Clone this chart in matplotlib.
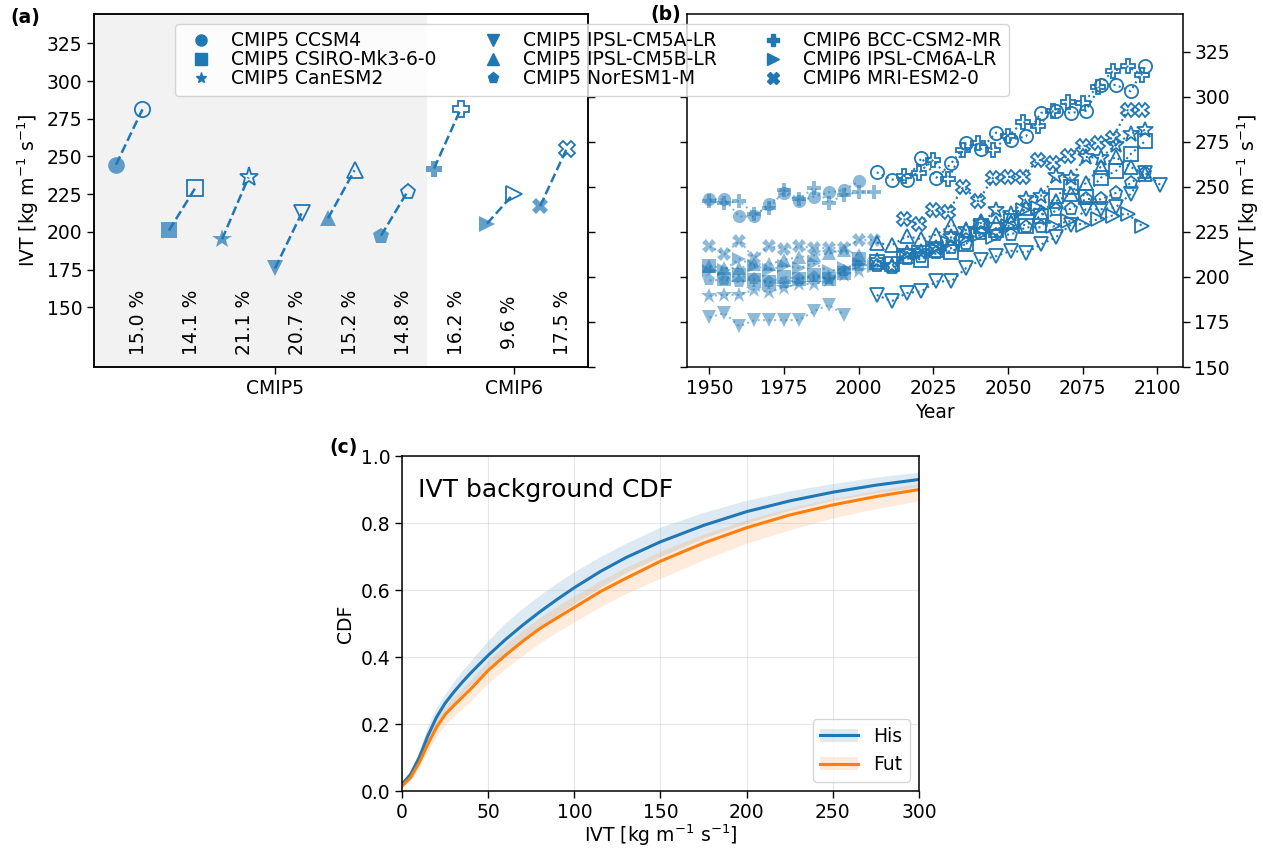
import numpy as np
import matplotlib
matplotlib.use("Agg")
import matplotlib.pyplot as plt
from matplotlib.patches import Patch
from matplotlib.lines import Line2D

plt.rcParams["font.size"] = 13.5
plt.rcParams["axes.linewidth"] = 1.1
plt.rcParams["xtick.major.size"] = 4.8
plt.rcParams["ytick.major.size"] = 4.8
plt.rcParams["xtick.major.width"] = 1.0
plt.rcParams["ytick.major.width"] = 1.0

# model names, markers and group
models = ["CMIP5 CCSM4", "CMIP5 CSIRO-Mk3-6-0", "CMIP5 CanESM2",
          "CMIP5 IPSL-CM5A-LR", "CMIP5 IPSL-CM5B-LR", "CMIP5 NorESM1-M",
          "CMIP6 BCC-CSM2-MR", "CMIP6 IPSL-CM6A-LR", "CMIP6 MRI-ESM2-0"]
markers = ["o", "s", "*", "v", "^", "p", "P", ">", "X"]

# period mean IVT (kg m-1 s-1)
his_mean = [244.5, 201.0, 195.0, 175.8, 209.0, 197.5, 242.0, 205.5, 217.0]
fut_mean = [281.2, 229.3, 236.1, 212.2, 240.8, 226.7, 281.2, 225.2, 255.0]

# 5-year mean IVT time series, historical
his_ccsm4 = [243, 243, 233.5, 233.5, 240.5, 246.5, 242, 244.5, 247, 248, 253]
his_csiro = [206, 199, 201, 198, 197, 200, 199, 201, 199, 202, 210]
his_canesm2 = [189.5, 190, 190, 193, 191.5, 194, 196, 196, 198, 201, 203]
his_cm5a = [177.5, 180, 172.5, 176, 176, 176, 176, 181, 184.5, 179]
his_cm5b = [206, 205, 205, 207, 207, 209.5, 211, 212, 213, 215, 212]
his_noresm = [198, 198.5, 197, 199, 197, 196.5, 199, 200, 199, 203, 206]
his_bcc = [242, 241, 242, 235, 238, 248, 243, 249.5, 241, 245.5, 247, 247]
his_cm6a = [203, 204, 210, 206, 204, 206, 205, 207.5, 203, 205, 207, 206]
his_mri = [217, 212.5, 220, 210.5, 217, 215.5, 217, 216, 216, 216, 220.5, 220.5]

# 5-year mean IVT time series, future
fut_ccsm4 = [258, 254, 253.5, 266, 255, 263, 274, 271, 280, 276, 278, 291,
             292, 291, 292, 306.5, 306.5, 303, 316.7]
fut_csiro = [208.5, 207, 211.5, 209.5, 215, 214, 218.5, 228, 226, 231, 228.5,
             234, 245, 250, 244.5, 255, 258.5, 268, 275.5]
fut_canesm2 = [209, 206, 213, 214, 216, 222, 226, 230, 237, 235, 243, 245,
               256, 255, 266.5, 266, 273, 279.5, 281.5]
fut_cm5a = [190, 186.5, 191, 192, 197.5, 197.5, 205, 209.5, 211.5, 214.5,
            213.5, 218, 222, 229, 237.5, 237.5, 238.5, 246, 257.5, 251]
fut_cm5b = [219, 217.5, 222.5, 221, 223.5, 229, 226, 231, 230, 230.5, 238,
            236, 242, 246, 252, 261, 266.5, 261, 257]
fut_noresm = [206, 205, 210, 211, 213, 216, 218.5, 224, 223.5, 223.5, 227.5,
              227.5, 237.3, 237.7, 243.2, 243, 246.5, 252, 257.6]
fut_bcc = [255.8, 257.6, 265, 254.5, 270.5, 274, 270.5, 278, 286, 283.5,
           292, 297, 296.5, 305.5, 314, 316.7, 312]
fut_cm6a = [212, 214, 216, 219, 221, 223, 222, 228, 237, 238, 228, 231, 229,
            232, 234, 235, 228]
fut_mri = [232, 229.5, 237, 236, 250, 242, 255, 255.5, 255.5, 265, 263, 267,
           272.5, 274.5, 277, 292.5, 292.5]

his_series = [his_ccsm4, his_csiro, his_canesm2, his_cm5a, his_cm5b,
              his_noresm, his_bcc, his_cm6a, his_mri]
fut_series = [fut_ccsm4, fut_csiro, fut_canesm2, fut_cm5a, fut_cm5b,
              fut_noresm, fut_bcc, fut_cm6a, fut_mri]

his_years = np.arange(1950, 2010, 5)
fut_years_cmip5 = np.arange(2006, 2105, 5)
fut_years_cmip6 = np.arange(2015, 2100, 5)

# background IVT CDF, ensemble mean and spread
cdf_x = [0, 5, 10, 15, 20, 25, 30, 35, 40, 50, 60, 70, 80, 90, 100, 115, 130,
         150, 175, 200, 225, 250, 275, 300]
his_cdf = [0.02, 0.05, 0.1, 0.165, 0.22, 0.262, 0.295, 0.325, 0.353, 0.405,
           0.452, 0.495, 0.535, 0.572, 0.607, 0.655, 0.697, 0.744, 0.793,
           0.834, 0.866, 0.892, 0.913, 0.93]
his_lo = [0.018, 0.045, 0.088, 0.145, 0.195, 0.232, 0.262, 0.29, 0.316, 0.365,
          0.41, 0.452, 0.49, 0.526, 0.56, 0.608, 0.652, 0.70, 0.755, 0.80,
          0.838, 0.868, 0.89, 0.908]
his_hi = [0.025, 0.06, 0.12, 0.195, 0.25, 0.29, 0.327, 0.36, 0.39, 0.45,
          0.502, 0.546, 0.585, 0.622, 0.655, 0.70, 0.74, 0.788, 0.832, 0.868,
          0.896, 0.918, 0.937, 0.952]
fut_cdf = [0.015, 0.04, 0.085, 0.14, 0.19, 0.228, 0.255, 0.28, 0.305, 0.36,
           0.405, 0.447, 0.485, 0.517, 0.548, 0.595, 0.635, 0.686, 0.74,
           0.786, 0.824, 0.854, 0.879, 0.90]
fut_lo = [0.012, 0.032, 0.07, 0.118, 0.163, 0.198, 0.223, 0.247, 0.27, 0.322,
          0.365, 0.405, 0.442, 0.475, 0.505, 0.55, 0.59, 0.635, 0.69, 0.74,
          0.78, 0.815, 0.843, 0.866]
fut_hi = [0.02, 0.05, 0.1, 0.163, 0.215, 0.252, 0.28, 0.307, 0.333, 0.39,
          0.437, 0.48, 0.518, 0.552, 0.583, 0.628, 0.668, 0.716, 0.767, 0.81,
          0.845, 0.873, 0.897, 0.918]

c0 = "#1f77b4"
c1 = "#ff7f0e"
ivt_label = "IVT [kg m$^{-1}$ s$^{-1}$]"
yticks = list(range(150, 326, 25))
# stars read small next to the other symbols
msize_a = [12 if m != "*" else 15 for m in markers]
msize_b = [9.5 if m != "*" else 12 for m in markers]

fig = plt.figure(figsize=(12.63, 8.5), dpi=100)
ax_a = fig.add_axes([0.0744, 0.5682, 0.3912, 0.4153])
ax_b = fig.add_axes([0.5439, 0.5682, 0.3927, 0.4153])
ax_c = fig.add_axes([0.3183, 0.0694, 0.4093, 0.3941])

# (a) period means
ax_a.axvspan(-1, 5.85, color="0.95", zorder=0)
for i in range(len(models)):
    ax_a.plot([i, i + 0.5], [his_mean[i], fut_mean[i]], "--", color=c0, lw=1.8)
    ax_a.plot(i, his_mean[i], markers[i], color=c0, alpha=0.7, ms=msize_a[i],
              mew=0)
    ax_a.plot(i + 0.5, fut_mean[i], markers[i], mfc="none", mec=c0,
              ms=msize_a[i] - 1, mew=1.3)
    pct = (fut_mean[i] / his_mean[i] - 1) * 100
    ax_a.text(i + 0.42, 140, f"{pct:.1f} %", rotation=90, ha="center",
              va="center")
ax_a.set_xlim(-0.415, 8.905)
ax_a.set_ylim(110.4, 344.4)
ax_a.set_yticks(yticks)
ax_a.set_xticks([3.0, 7.5])
ax_a.set_xticklabels(["CMIP5", "CMIP6"])
ax_a.set_ylabel(ivt_label)
ax_a2 = ax_a.twinx()
ax_a2.set_ylim(150, 345.8)
ax_a2.set_yticks(yticks)
ax_a2.set_yticklabels([])

# (b) time series
for i in range(len(models)):
    hy = his_years[:len(his_series[i])]
    fy = fut_years_cmip5 if i < 6 else fut_years_cmip6
    fy = fy[:len(fut_series[i])]
    ax_b.plot(hy, his_series[i], ":", marker=markers[i], color=c0, alpha=0.5,
              ms=msize_b[i], mew=0, lw=1.5)
    ax_b.plot(fy, fut_series[i], ":", marker=markers[i], color=c0, mfc="none",
              mec=c0, ms=msize_b[i], mew=1.3, lw=1.5)
ax_b.set_ylim(150, 345.8)
ax_b.set_yticks(yticks)
ax_b.set_xticks(range(1950, 2101, 25))
ax_b.yaxis.tick_right()
ax_b.yaxis.set_label_position("right")
ax_b.tick_params(axis="y", left=True, right=True, labelleft=False,
                 labelright=True)
ax_b.set_ylabel(ivt_label)
ax_b.set_xlabel("Year")

handles = [Line2D([], [], ls="none", marker=m, color=c0, ms=8)
           for m in markers]
fig.legend(handles, models, loc="upper left", bbox_to_anchor=(0.1386, 0.972),
           ncol=3, handletextpad=0.6, columnspacing=2.0, labelspacing=0.0,
           borderaxespad=0, borderpad=0.4)

# (c) CDF
ax_c.fill_between(cdf_x, his_lo, his_hi, color=c0, alpha=0.15, lw=0)
ax_c.fill_between(cdf_x, fut_lo, fut_hi, color=c1, alpha=0.15, lw=0)
ax_c.plot(cdf_x, his_cdf, color=c0, lw=2.2)
ax_c.plot(cdf_x, fut_cdf, color=c1, lw=2.2)
ax_c.set_xlim(0, 300)
ax_c.set_ylim(0, 1)
ax_c.grid(alpha=0.3)
ax_c.set_xlabel(ivt_label, labelpad=1)
ax_c.set_ylabel("CDF")
ax_c.text(0.03, 0.9, "IVT background CDF", transform=ax_c.transAxes,
          fontsize=18, va="center")
leg_h = [(Patch(color=c0, alpha=0.15, lw=0), Line2D([], [], color=c0, lw=2.2)),
         (Patch(color=c1, alpha=0.15, lw=0), Line2D([], [], color=c1, lw=2.2))]
ax_c.legend(leg_h, ["His", "Fut"], loc="lower right")

fig.text(0.008, 0.98, "(a)", fontweight="bold", va="center")
fig.text(0.515, 0.983, "(b)", fontweight="bold", va="center")
fig.text(0.261, 0.474, "(c)", fontweight="bold", va="center")

fig.savefig("out.png", dpi=100)
